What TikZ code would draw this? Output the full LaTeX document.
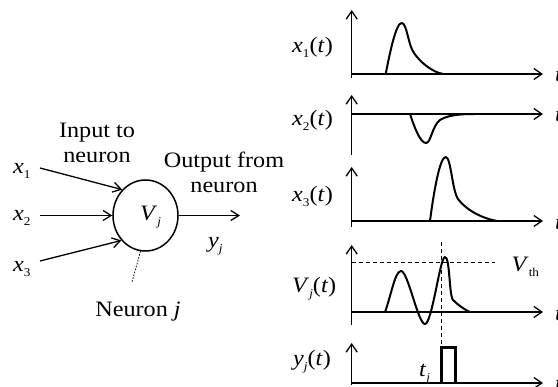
\documentclass[tikz,border=0pt]{standalone}
\usepackage{fontspec}
\setmainfont{Liberation Serif}[FakeStretch=1.1]
\usetikzlibrary{arrows.meta,shapes.geometric}
\newcommand\lsub[1]{\raisebox{-0.45ex}{\fontsize{12}{12}\selectfont #1}}
\begin{document}
\begin{tikzpicture}[x=1pt,y=-1pt,
  font=\fontsize{22}{25}\selectfont,
  axis/.style={line width=1.3pt,-{Straight Barb[length=8pt,width=11pt,line width=1.3pt]}},
  inarrow/.style={line width=1.3pt,-{Straight Barb[length=8pt,width=10pt,line width=1.3pt]}},
  sig/.style={line width=2pt,line join=round},
  lbl/.style={anchor=base west,inner sep=0pt},
  ctr/.style={align=center,inner sep=0pt},
  thr/.style={line width=1pt,dash pattern=on 4pt off 3pt}]
\useasboundingbox (0,0) rectangle (558,387);
\fill[white] (0,0) rectangle (558,387);

% ---------- neuron (left part) ----------
\node[ellipse,draw,line width=1.5pt,minimum width=65pt,minimum height=71pt,inner sep=0pt] (neuron) at (145.5,215.5) {};
\node[lbl] (vj) at (140,221) {\textit{V}\lsub{\textit{j}}};
\node[lbl] (x1) at (13,174) {\textit{x}\lsub{1}};
\node[lbl] (x2) at (13,221) {\textit{x}\lsub{2}};
\node[lbl] (x3) at (13,272) {\textit{x}\lsub{3}};
\coordinate (x1s) at (40,168);
\coordinate (x2s) at (40,215.5);
\coordinate (x3s) at (40,261);
\draw[inarrow] (x1s) -- (neuron.132);
\draw[inarrow] (x2s) -- (neuron.west);
\draw[inarrow] (x3s) -- (neuron.226);
\coordinate (outend) at (240,215.5);
\draw[inarrow] (neuron.east) -- (outend);
\node[lbl] (yj) at (208,248) {\textit{y}\lsub{\textit{j}}};
\node[ctr] (inlbl) at (97,143) {Input to\\neuron};
\node[ctr] (outlbl) at (224,172) {Output from\\neuron};
\node[anchor=base,inner sep=0pt] (nlbl) at (138,317) {Neuron \textit{j}};
\coordinate (dotend) at (131.7,283);
\draw[line width=0.8pt,dash pattern=on 1.5pt off 1.5pt] (neuron.262) -- (dotend);

% ---------- panel 1: x1(t) ----------
\node[lbl] (l1) at (292,52.5) {\textit{x}\lsub{1}(\textit{t})};
\draw[axis] (351.7,78) -- (351.7,10);
\draw[axis] (351.7,74) -- (543,74);
\node[lbl] (t1) at (555,81.5) {\textit{t}};
\draw[sig] (385.7,74) .. controls (390,52) and (396,23) .. (401.7,23)
  .. controls (407,23) and (408,45) .. (414,53)
  .. controls (420,62) and (432,72) .. (443,74);

% ---------- panel 2: x2(t) ----------
\node[lbl] (l2) at (292,126) {\textit{x}\lsub{2}(\textit{t})};
\draw[axis] (351.7,155) -- (351.7,95);
\draw[axis] (351.7,114) -- (543,114);
\node[lbl] (t2) at (555,121.5) {\textit{t}};
\draw[sig] (410,114) .. controls (414,126) and (420,143) .. (426,143)
  .. controls (431,143) and (432,126) .. (440,120)
  .. controls (448,115) and (460,114) .. (475,114);

% ---------- panel 3: x3(t) ----------
\node[lbl] (l3) at (292,201.5) {\textit{x}\lsub{3}(\textit{t})};
\draw[axis] (351.7,227) -- (351.7,167);
\draw[axis] (351.7,221) -- (543,221);
\node[lbl] (t3) at (555,229.5) {\textit{t}};
\draw[sig] (430,221) .. controls (434,190) and (440,157) .. (445.7,157)
  .. controls (451,157) and (452,190) .. (458,199)
  .. controls (468,212) and (485,219) .. (497,221);

% ---------- panel 4: Vj(t) ----------
\node[lbl] (l4) at (292,293) {\textit{V}\lsub{\textit{j}}(\textit{t})};
\draw[axis] (351.7,325) -- (351.7,245);
\draw[axis] (351.7,312) -- (543,312);
\node[lbl] (t4) at (555,320.5) {\textit{t}};
\draw[thr] (351.7,263) -- (495,263);
\node[lbl] (vth) at (511.5,271.5) {\textit{V}\lsub{th}};
\draw[sig] (385,312) .. controls (391,296) and (395,271) .. (401,271)
  .. controls (408,271) and (418,324) .. (425,324)
  .. controls (432,324) and (440,257) .. (445,257)
  .. controls (450,257) and (449,295) .. (453,300)
  .. controls (458,305) and (465,310) .. (470,312);
\draw[thr] (441.7,242) -- (441.7,347);

% ---------- panel 5: yj(t) ----------
\node[lbl] (l5) at (293,366) {\textit{y}\lsub{\textit{j}}(\textit{t})};
\draw[axis] (351.7,385) -- (351.7,343);
\draw[axis] (351.7,383) -- (543,383);
\node[lbl] (t5) at (555,391) {\textit{t}};
\node[lbl] (tj) at (419,377) {\textit{t}\lsub{\textit{j}}};
\draw[line width=3pt,line join=miter] (441.7,383) -- (441.7,348) -- (455.5,348) -- (455.5,383);
\end{tikzpicture}
\end{document}
